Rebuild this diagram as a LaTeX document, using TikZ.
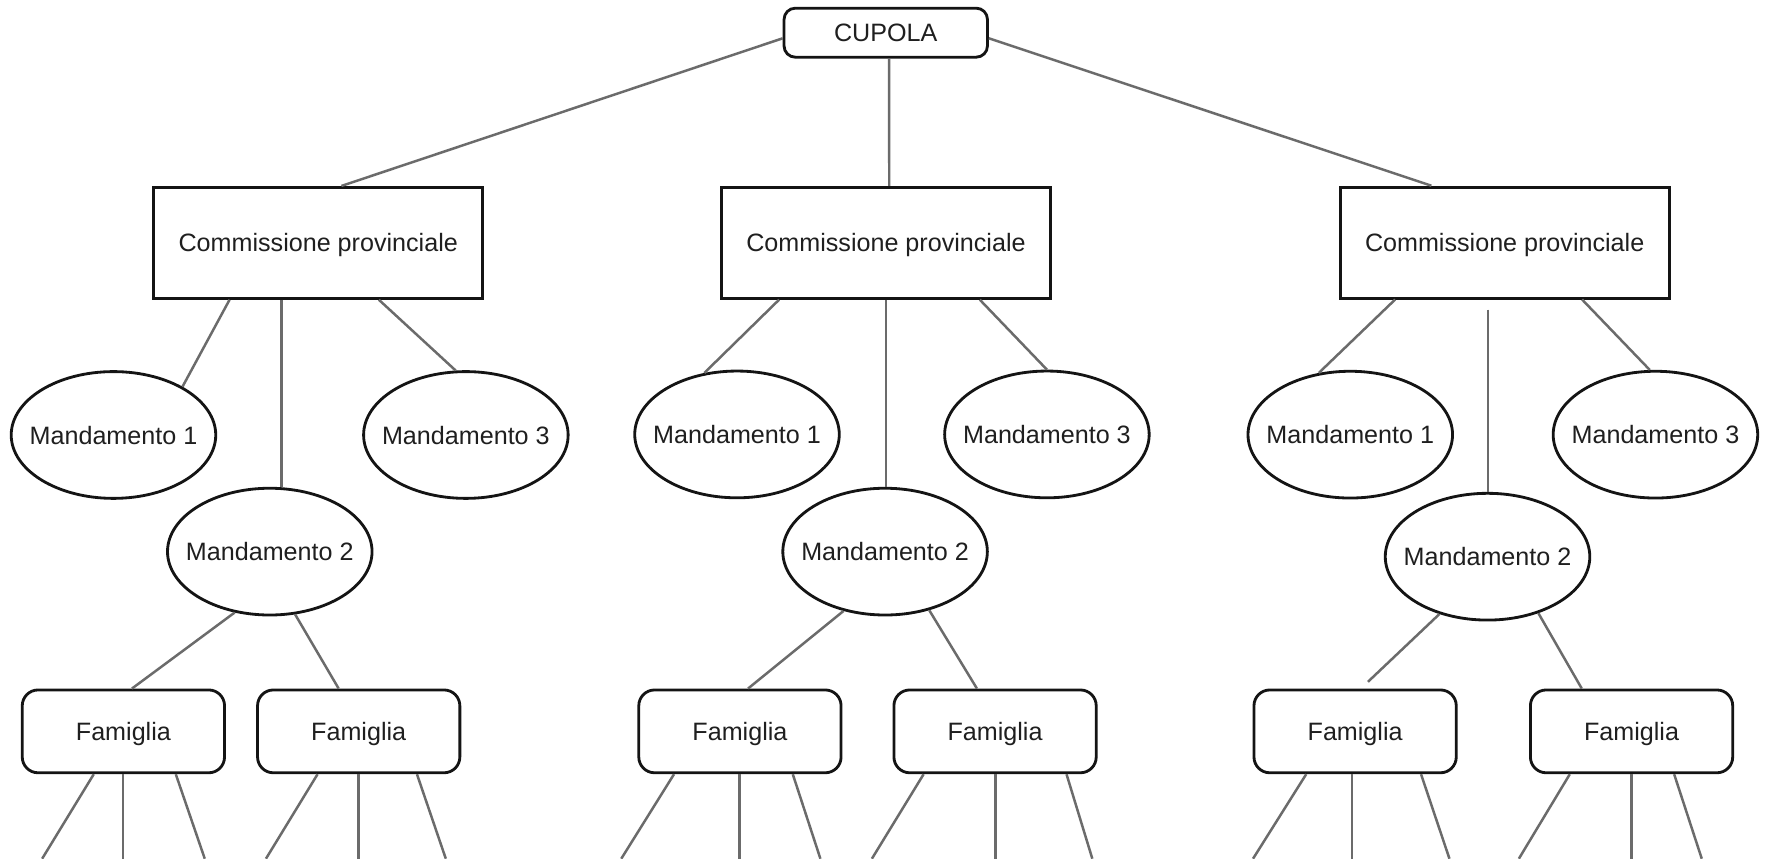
\documentclass[tikz,border=0pt]{standalone}
\usepackage{fontspec}
\setmainfont{Liberation Sans}
\usetikzlibrary{shapes.geometric}
\newcommand\ztxt[1]{\makebox[0pt]{#1}}
\begin{document}
\begin{tikzpicture}[x=1pt,y=-1pt,
  every node/.style={font=\fontsize{22.3}{26}\selectfont, text=black!88, text height=16pt, text depth=0pt, inner sep=0pt, line width=2.5pt, draw=black!92},
  topbox/.style={rectangle, rounded corners=10pt, minimum width=180.5pt, minimum height=43.5pt},
  combox/.style={rectangle, minimum width=292pt, minimum height=98.5pt},
  mandbox/.style={ellipse, minimum width=181.5pt, minimum height=112.5pt},
  fambox/.style={rectangle, rounded corners=14pt, minimum width=179.5pt, minimum height=73.5pt},
  conn/.style={draw=black!58, line width=2.2pt}]
\useasboundingbox (0,0) rectangle (1568,762);
\fill[white] (0,0) rectangle (1568,762);
\clip (0,0) rectangle (1568,762);

% nodes
\node[topbox] (cup) at (786,29) {CUPOLA};
\node[combox] (cp1) at (282.4,215.5) {Commissione provinciale};
\node[combox] (cp2) at (786.2,215.5) {Commissione provinciale};
\node[combox] (cp3) at (1335.2,215.3) {Commissione provinciale};

\node[mandbox] (m1a) at (100.7,386) {\ztxt{Mandamento 1}};
\node[mandbox] (m3a) at (413.4,386) {\ztxt{Mandamento 3}};
\node[mandbox] (m2a) at (239.4,489.5) {\ztxt{Mandamento 2}};
\node[mandbox] (m1b) at (654,385.5) {\ztxt{Mandamento 1}};
\node[mandbox] (m3b) at (929,385.5) {\ztxt{Mandamento 3}};
\node[mandbox] (m2b) at (785.4,489.5) {\ztxt{Mandamento 2}};
\node[mandbox] (m1c) at (1198.2,385.7) {\ztxt{Mandamento 1}};
\node[mandbox] (m3c) at (1469,385.7) {\ztxt{Mandamento 3}};
\node[mandbox] (m2c) at (1320,494) {\ztxt{Mandamento 2}};

\node[fambox] (f1a) at (109.5,649) {Famiglia};
\node[fambox] (f1b) at (318.3,649) {Famiglia};
\node[fambox] (f2a) at (656.6,649) {Famiglia};
\node[fambox] (f2b) at (883,649) {Famiglia};
\node[fambox] (f3a) at (1202.5,649) {Famiglia};
\node[fambox] (f3b) at (1447.8,649) {Famiglia};

% cupola to commissions
\draw[conn] ([yshift=-5pt]cup.west) -- ([xshift=20.6pt]cp1.north);
\draw[conn] ([xshift=3pt]cup.south) -- ([xshift=2.9pt]cp2.north);
\draw[conn] ([yshift=-5pt]cup.east) -- ([xshift=-65pt]cp3.north);

% group 1
\draw[conn] ([xshift=-78.7pt]cp1.south) -- (m1a.35);
\draw[conn] ([xshift=-32.8pt]cp1.south) -- ([xshift=-32.8pt]cp1.south |- m2a.north);
\draw[conn] ([xshift=53.8pt]cp1.south) -- (m3a.99);
\draw[conn] (m2a.240) -- ([xshift=7.6pt]f1a.north);
\draw[conn] (m2a.292.6) -- ([xshift=-17.8pt]f1b.north);

% group 2
\draw[conn] ([xshift=-94.9pt]cp2.south) -- (m1b.118);
\draw[conn] (cp2.south) -- (cp2.south |- m2b.north);
\draw[conn] ([xshift=83.3pt]cp2.south) -- (m3b.north);
\draw[conn] (m2b.235.1) -- ([xshift=7.2pt]f2a.north);
\draw[conn] (m2b.307.7) -- ([xshift=-16.1pt]f2b.north);

% group 3
\draw[conn] ([xshift=-97.2pt]cp3.south) -- (m1c.117.7);
\draw[conn] ([xshift=-14.9pt,yshift=-9pt]cp3.south) -- ([xshift=-14.9pt]cp3.south |- m2c.north);
\draw[conn] ([xshift=68.7pt]cp3.south) -- (m3c.95);
\draw[conn] (m2c.230.6) -- ([xshift=11.4pt,yshift=6pt]f3a.north);
\draw[conn] (m2c.312) -- ([xshift=-44.2pt]f3b.north);

% lines below families (free ends)
\foreach \f/\sa/\sb/\sc/\ea/\ec in {f1a/-26.3/-0.2/46.5/37.4/181.7, f1b/-36.5/0/51.7/236/395.6, f2a/-58.5/-0.4/46.9/551.3/728, f2b/-63.4/0.2/63.4/773.7/969.3, f3a/-43.4/-3/58.5/1111.9/1286.2, f3b/-54.8/0/37.8/1347.8/1510.1}
{
  \coordinate (\f-l) at (\ea,762);
  \coordinate (\f-r) at (\ec,762);
  \draw[conn] ([xshift=\sa pt]\f.south) -- (\f-l);
  \draw[conn] ([xshift=\sb pt]\f.south) -- ++(0,80);
  \draw[conn] ([xshift=\sc pt]\f.south) -- (\f-r);
}
\end{tikzpicture}
\end{document}
